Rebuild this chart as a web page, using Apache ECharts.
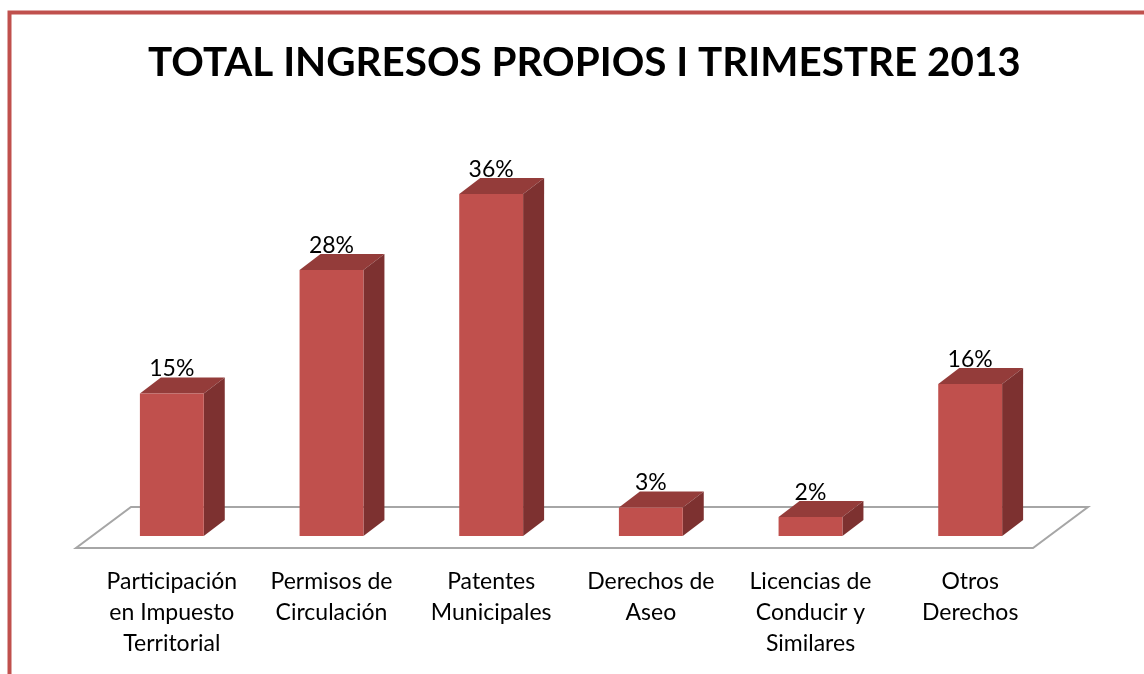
<!DOCTYPE html>
<html>
<head>
<meta charset="utf-8">
<script src="https://cdn.jsdelivr.net/npm/echarts@6/dist/echarts.min.js"></script>
<style>
  html, body { margin: 0; padding: 0; background: #fff; }
  #chart { width: 1144px; height: 674px; }
</style>
</head>
<body>
<div id="chart"></div>
<script>
var categories = [
  'Participación\nen Impuesto\nTerritorial',
  'Permisos de\nCirculación',
  'Patentes\nMunicipales',
  'Derechos de\nAseo',
  'Licencias de\nConducir y\nSimilares',
  'Otros\nDerechos'
]
var percents = [15, 28, 36, 3, 2, 16]

var chart = echarts.init(document.getElementById('chart'))

// 3d box: front face, top, right side
function renderBar(params, api) {
  var idx = api.value(0)
  var top = api.coord([idx, api.value(1)])
  var base = api.coord([idx, 0])
  var w = api.size([1, 0])[0] * 0.4
  var dx = 21, dy = 16
  var x0 = top[0] - w / 2, x1 = top[0] + w / 2
  return {
    type: 'group',
    children: [
      { type: 'polygon', shape: { points: [[x0, top[1]], [x0 + dx, top[1] - dy], [x1 + dx, top[1] - dy], [x1, top[1]]] },
        style: { fill: '#943C3A' } },
      { type: 'polygon', shape: { points: [[x1, top[1]], [x1 + dx, top[1] - dy], [x1 + dx, base[1] - dy], [x1, base[1]]] },
        style: { fill: '#7D3130' } },
      { type: 'rect', shape: { x: x0, y: top[1], width: w, height: base[1] - top[1] },
        style: { fill: '#C0504D' } },
      { type: 'text', style: { x: top[0], y: top[1] - dy + 3, text: api.value(1) + '%', align: 'center', verticalAlign: 'bottom',
        font: '23px Lato, "Open Sans", sans-serif', fill: '#000' } }
    ]
  }
}

// floor plane under the bars
function renderFloor(params, api) {
  var cs = params.coordSys
  var l = cs.x, r = cs.x + cs.width, b = cs.y + cs.height
  return {
    type: 'polygon',
    shape: { points: [[l + 39, b - 29], [r + 38, b - 29], [r - 17, b + 12], [l - 16, b + 12]] },
    style: { fill: '#fff', stroke: '#A6A6A6', lineWidth: 2 }
  }
}

chart.setOption({
  animation: false,
  backgroundColor: '#fff',
  title: {
    text: 'TOTAL INGRESOS PROPIOS I TRIMESTRE 2013',
    left: 143,
    top: 38,
    textStyle: { fontFamily: 'Lato', fontWeight: 'bold', fontSize: 40.4, color: '#000' }
  },
  graphic: [{
    type: 'rect',
    shape: { x: 9.5, y: 12.5, width: 1200, height: 700 },
    style: { fill: null, stroke: '#C0504D', lineWidth: 4 },
    silent: true
  }],
  grid: { left: 92, right: 94, top: 156, bottom: 138 },
  xAxis: {
    type: 'category',
    data: categories,
    axisLine: { show: false },
    axisTick: { show: false },
    axisLabel: {
      interval: 0,
      margin: 30,
      fontFamily: 'Lato',
      fontSize: 23,
      lineHeight: 31,
      color: '#000'
    }
  },
  yAxis: {
    type: 'value',
    min: 0,
    max: 40,
    show: false,
    splitLine: { show: false }
  },
  series: [
    {
      type: 'custom',
      renderItem: renderFloor,
      data: [[0, 0]],
      z: 1,
      silent: true
    },
    {
      type: 'custom',
      renderItem: renderBar,
      encode: { x: 0, y: 1 },
      data: percents.map(function (v, i) { return [i, v] }),
      z: 2
    }
  ]
})
</script>
</body>
</html>
